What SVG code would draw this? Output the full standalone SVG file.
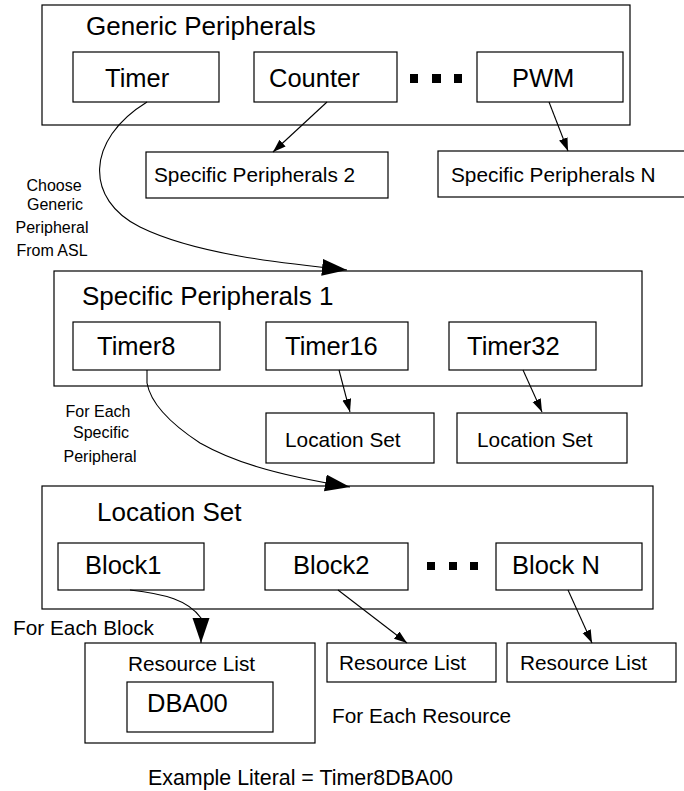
<svg xmlns="http://www.w3.org/2000/svg" width="684" height="791" viewBox="0 0 684 791">
  <style>
    .box { fill: #fff; stroke: #000; stroke-width: 1.2; }
    .dot { fill: #000; }
    text { font-family: "Liberation Sans", Arial, sans-serif; fill: #000; }
    .big { font-size: 25.5px; }
    .title { font-size: 26px; }
    .mid { font-size: 20.8px; }
    .small { font-size: 16px; }
    .conn { fill: none; stroke: #000; stroke-width: 1.1; }
  </style>
  <defs>
    <marker id="arrow" markerUnits="userSpaceOnUse" markerWidth="14" markerHeight="10" refX="13" refY="4.5" orient="auto">
      <path d="M0,0 L13,4.5 L0,9 z" fill="#000"/>
    </marker>
    <marker id="arrowBig" markerUnits="userSpaceOnUse" markerWidth="26" markerHeight="18" refX="25" refY="8.5" orient="auto">
      <path d="M0,0 L25,8.5 L0,17 z" fill="#000"/>
    </marker>
  </defs>

  <rect width="684" height="791" fill="#fff"/>

  <!-- Generic peripherals container -->
  <g id="generic-peripherals">
    <rect class="box" x="42" y="5" width="588" height="120"/>
    <text class="title" x="86" y="35">Generic Peripherals</text>
  </g>
  <g id="timer">
    <rect class="box" x="73" y="52" width="146" height="50"/>
    <text class="big" x="105" y="87">Timer</text>
  </g>
  <g id="counter">
    <rect class="box" x="254" y="52" width="143" height="50"/>
    <text class="big" x="269" y="87">Counter</text>
  </g>
  <g id="ellipsis-1">
    <rect class="dot" x="410" y="74" width="8" height="9"/>
    <rect class="dot" x="432" y="74" width="9" height="9"/>
    <rect class="dot" x="454" y="74" width="8" height="9"/>
  </g>
  <g id="pwm">
    <rect class="box" x="477" y="52" width="146" height="50"/>
    <text class="big" x="512" y="87">PWM</text>
  </g>
  <g id="specific-peripherals-2">
    <rect class="box" x="146" y="152" width="242" height="46"/>
    <text class="mid" x="154" y="182">Specific Peripherals 2</text>
  </g>
  <g id="specific-peripherals-n">
    <rect class="box" x="438" y="151" width="250" height="46"/>
    <text class="mid" x="451" y="182">Specific Peripherals N</text>
  </g>
  <g id="label-choose">
    <text class="small" text-anchor="middle" x="54" y="191">Choose</text>
    <text class="small" text-anchor="middle" x="55" y="210">Generic</text>
    <text class="small" text-anchor="middle" x="52" y="233">Peripheral</text>
    <text class="small" text-anchor="middle" x="52" y="256">From ASL</text>
  </g>

  <!-- Specific peripherals container -->
  <g id="specific-peripherals-1">
    <rect class="box" x="54" y="271" width="588" height="115"/>
    <text class="title" x="82" y="305">Specific Peripherals 1</text>
  </g>
  <g id="timer8">
    <rect class="box" x="73" y="322" width="147" height="48"/>
    <text class="big" x="97" y="355">Timer8</text>
  </g>
  <g id="timer16">
    <rect class="box" x="266" y="322" width="142" height="48"/>
    <text class="big" x="285" y="355">Timer16</text>
  </g>
  <g id="timer32">
    <rect class="box" x="449" y="322" width="147" height="48"/>
    <text class="big" x="467" y="355">Timer32</text>
  </g>
  <g id="location-set-a">
    <rect class="box" x="266" y="413" width="168" height="50"/>
    <text class="mid" x="285" y="447">Location Set</text>
  </g>
  <g id="location-set-b">
    <rect class="box" x="457" y="413" width="170" height="50"/>
    <text class="mid" x="477" y="447">Location Set</text>
  </g>
  <g id="label-each-peripheral">
    <text class="small" text-anchor="middle" x="98" y="417">For Each</text>
    <text class="small" text-anchor="middle" x="101" y="438">Specific</text>
    <text class="small" text-anchor="middle" x="100" y="462">Peripheral</text>
  </g>

  <!-- Location set container -->
  <g id="location-set">
    <rect class="box" x="42" y="486" width="611" height="123"/>
    <text class="title" x="97" y="521">Location Set</text>
  </g>
  <g id="block1">
    <rect class="box" x="58" y="543" width="146" height="47"/>
    <text class="big" x="85" y="574">Block1</text>
  </g>
  <g id="block2">
    <rect class="box" x="265" y="543" width="143" height="47"/>
    <text class="big" x="293" y="574">Block2</text>
  </g>
  <g id="ellipsis-2">
    <rect class="dot" x="427" y="562" width="8" height="8"/>
    <rect class="dot" x="449" y="562" width="8" height="8"/>
    <rect class="dot" x="470" y="562" width="8" height="8"/>
  </g>
  <g id="blockN">
    <rect class="box" x="496" y="543" width="146" height="47"/>
    <text class="big" x="512" y="574">Block N</text>
  </g>
  <g id="label-each-block">
    <text class="mid" x="13" y="635">For Each Block</text>
  </g>
  <g id="resource-list-a">
    <rect class="box" x="85" y="643" width="230" height="100"/>
    <text class="mid" x="128" y="671">Resource List</text>
  </g>
  <g id="dba00">
    <rect class="box" x="127" y="682" width="146" height="50"/>
    <text class="big" x="147" y="712">DBA00</text>
  </g>
  <g id="resource-list-b">
    <rect class="box" x="327" y="643" width="169" height="39"/>
    <text class="mid" x="339" y="670">Resource List</text>
  </g>
  <g id="resource-list-c">
    <rect class="box" x="507" y="643" width="169" height="39"/>
    <text class="mid" x="520" y="670">Resource List</text>
  </g>
  <g id="label-each-resource">
    <text class="mid" x="332" y="723">For Each Resource</text>
  </g>
  <g id="label-example">
    <text class="mid" style="font-size:21.4px" x="148" y="785">Example Literal = Timer8DBA00</text>
  </g>

  <!-- Connectors -->
  <g id="connectors">
    <path class="conn" marker-end="url(#arrowBig)" d="M147,102 C85,140 85,200 140,227 C195,254 280,263 347,270"/>
    <line class="conn" marker-end="url(#arrow)" x1="327" y1="102" x2="273" y2="152"/>
    <line class="conn" marker-end="url(#arrow)" x1="549" y1="102" x2="568" y2="151"/>
    <path class="conn" marker-end="url(#arrowBig)" d="M147,370 L147,383 C150,400 165,420 200,443 C230,460 270,474 350,487"/>
    <line class="conn" marker-end="url(#arrow)" x1="339" y1="370" x2="350" y2="412"/>
    <line class="conn" marker-end="url(#arrow)" x1="523" y1="370" x2="542" y2="412"/>
    <path class="conn" marker-end="url(#arrowBig)" d="M130,590 C165,594 188,600 201,618 L201,643"/>
    <line class="conn" marker-end="url(#arrow)" x1="338" y1="590" x2="407" y2="643"/>
    <line class="conn" marker-end="url(#arrow)" x1="568" y1="590" x2="592" y2="643"/>
  </g>
</svg>
